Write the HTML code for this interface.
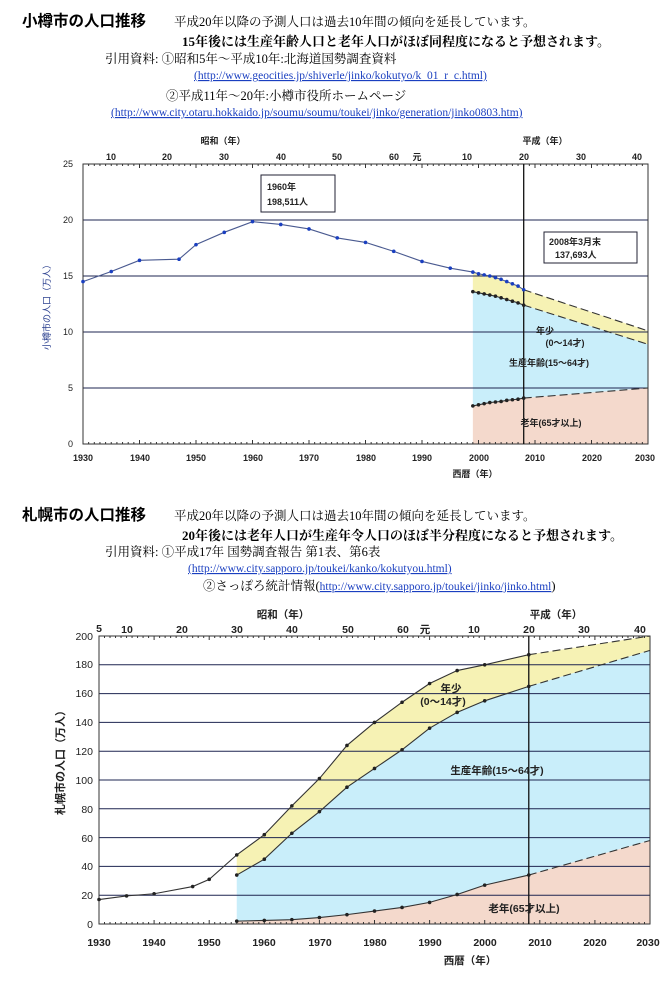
<!DOCTYPE html>
<html><head><meta charset="utf-8">
<style>
body{margin:0;background:#fff;}
svg{display:block;font-family:"Liberation Serif","Noto Serif CJK SC","Noto Sans CJK JP",serif;}
.b{font-weight:bold}
.s{font-family:"Liberation Sans","Noto Sans CJK JP",sans-serif;font-size:9px;font-weight:bold;fill:#222}
.u{fill:#1a3fc0;text-decoration:underline;font-size:11.5px}
</style></head><body>
<svg id="sv" width="672" height="990" viewBox="0 0 672 990" xmlns="http://www.w3.org/2000/svg">
<rect width="672" height="990" fill="#fff"/>
<text x="22" y="26" font-size="15.5" class="b" font-family="Liberation Sans,Noto Sans CJK JP,sans-serif">小樽市の人口推移</text>
<text x="174" y="26" font-size="12.5">平成20年以降の予測人口は過去10年間の傾向を延長しています。</text>
<text x="182" y="46" font-size="13" class="b">15年後には生産年齢人口と老年人口がほぼ同程度になると予想されます。</text>
<text x="105" y="63" font-size="12.5">引用資料:  ①昭和5年～平成10年:北海道国勢調査資料</text>
<text x="194" y="79" class="u">(http://www.geocities.jp/shiverle/jinko/kokutyo/k_01_r_c.html)</text>
<text x="166" y="100" font-size="12.5">②平成11年～20年:小樽市役所ホームページ</text>
<text x="111" y="116" class="u">(http://www.city.otaru.hokkaido.jp/soumu/soumu/toukei/jinko/generation/jinko0803.htm)</text>
<text x="22" y="520" font-size="15.5" class="b" font-family="Liberation Sans,Noto Sans CJK JP,sans-serif">札幌市の人口推移</text>
<text x="174" y="520" font-size="12.5">平成20年以降の予測人口は過去10年間の傾向を延長しています。</text>
<text x="182" y="540" font-size="13" class="b">20年後には老年人口が生産年令人口のほぼ半分程度になると予想されます。</text>
<text x="105" y="556" font-size="12.5">引用資料:  ①平成17年  国勢調査報告  第1表、第6表</text>
<text x="188" y="572" class="u">(http://www.city.sapporo.jp/toukei/kanko/kokutyou.html)</text>
<text x="203" y="590" font-size="12.5">②さっぽろ統計情報(<tspan class="u">http://www.city.sapporo.jp/toukei/jinko/jinko.html</tspan>)</text>
<g id="c1"></g><g id="c2"></g>
<g class="s" text-anchor="middle">
<text x="223" y="144">昭和（年）</text><text x="545" y="144">平成（年）</text>
<text x="111" y="160">10</text><text x="167" y="160">20</text><text x="224" y="160">30</text><text x="281" y="160">40</text><text x="337" y="160">50</text><text x="394" y="160">60</text><text x="417" y="160">元</text><text x="467" y="160">10</text><text x="524" y="160">20</text><text x="581" y="160">30</text><text x="637" y="160">40</text>
<text x="83" y="461">1930</text><text x="140" y="461">1940</text><text x="196" y="461">1950</text><text x="253" y="461">1960</text><text x="309" y="461">1970</text><text x="366" y="461">1980</text><text x="422" y="461">1990</text><text x="479" y="461">2000</text><text x="535" y="461">2010</text><text x="592" y="461">2020</text><text x="645" y="461">2030</text>
<text x="475" y="477">西暦（年）</text>
</g>
<g class="s" text-anchor="end" style="font-weight:normal">
<text x="73" y="447">0</text><text x="73" y="391">5</text><text x="73" y="335">10</text><text x="73" y="279">15</text><text x="73" y="223">20</text><text x="73" y="167">25</text>
</g>
<text class="s" style="fill:#2a3f8f;font-weight:normal" transform="translate(50,305) rotate(-90)" text-anchor="middle">小樽市の人口（万人）</text>
<g class="s" text-anchor="middle">
<text x="545" y="334">年少</text><text x="565" y="346">(0～14才)</text>
<text x="549" y="366">生産年齢(15～64才)</text>
<text x="551" y="426">老年(65才以上)</text>
</g>
<rect x="261" y="175" width="74" height="37" fill="#fff" stroke="#223" stroke-width="1"/>
<text class="s" x="267" y="190">1960年</text><text class="s" x="267" y="205">198,511人</text>
<rect x="544" y="232" width="93" height="31" fill="#fff" stroke="#223"/>
<text class="s" x="549" y="245">2008年3月末</text><text class="s" x="555" y="258">137,693人</text>
<g class="s" text-anchor="middle" style="font-size:10.5px">
<text x="283" y="618">昭和（年）</text><text x="556" y="618">平成（年）</text>
<text x="99" y="632">5</text><text x="127" y="633">10</text><text x="182" y="633">20</text><text x="237" y="633">30</text><text x="292" y="633">40</text><text x="348" y="633">50</text><text x="403" y="633">60</text><text x="425" y="633">元</text><text x="474" y="633">10</text><text x="529" y="633">20</text><text x="584" y="633">30</text><text x="640" y="633">40</text>
<text x="99" y="946">1930</text><text x="154" y="946">1940</text><text x="209" y="946">1950</text><text x="264" y="946">1960</text><text x="320" y="946">1970</text><text x="375" y="946">1980</text><text x="430" y="946">1990</text><text x="485" y="946">2000</text><text x="540" y="946">2010</text><text x="595" y="946">2020</text><text x="648" y="946">2030</text>
<text x="470" y="964">西暦（年）</text>
</g>
<g class="s" text-anchor="end" style="font-size:10.5px;font-weight:normal">
<text x="93" y="928">0</text><text x="93" y="899">20</text><text x="93" y="870">40</text><text x="93" y="842">60</text><text x="93" y="813">80</text><text x="93" y="784">100</text><text x="93" y="755">120</text><text x="93" y="726">140</text><text x="93" y="697">160</text><text x="93" y="668">180</text><text x="93" y="640">200</text>
</g>
<text class="s" style="font-size:11px" transform="translate(64,760) rotate(-90)" text-anchor="middle">札幌市の人口（万人）</text>
<g class="s" text-anchor="middle" style="font-size:10.5px">
<text x="451" y="692">年少</text><text x="443" y="705">(0～14才)</text>
<text x="497" y="774">生産年齢(15～64才)</text>
<text x="524" y="912">老年(65才以上)</text>
</g>
</svg>
<script>
var NS="http://www.w3.org/2000/svg";
function el(g,t,a){var e=document.createElementNS(NS,t);for(var k in a)e.setAttribute(k,a[k]);g.appendChild(e);return e;}
function chart(id,x0,x1,y0,yTop,vmax,step,tot,mid,old,dotC,lineC,fillStart){
 var g=document.getElementById(id);
 var X=function(y){return x0+(y-1930)*(x1-x0)/100},Y=function(v){return y0-(v)*(y0-yTop)/vmax};
 var P=function(a){return a.map(function(p){return X(p[0])+","+Y(Math.min(p[1],vmax))}).join(" ")};
 function interp(a,y){for(var i=0;i<a.length-1;i++){if(y>=a[i][0]&&y<=a[i+1][0]){var t=(y-a[i][0])/(a[i+1][0]-a[i][0]);return a[i][1]+t*(a[i+1][1]-a[i][1]);}}return a[a.length-1][1];}
 var totF=tot.filter(function(p){return p[0]>=fillStart});
 totF.unshift([fillStart,interp(tot,fillStart)]);
 var mr=mid.slice().reverse(), or=old.slice().reverse();
 el(g,"polygon",{points:P(totF)+" "+P(mr),fill:"#f6f2b4"});
 el(g,"polygon",{points:P(mid)+" "+P(or),fill:"#c9eefa"});
 el(g,"polygon",{points:P(old)+" "+X(2030)+","+y0+" "+X(old[0][0])+","+y0,fill:"#f4d9cc"});
 for(var v=step;v<=vmax;v+=step) el(g,"line",{x1:x0,x2:x1,y1:Y(v),y2:Y(v),stroke:"#1e2550","stroke-width":1});
 el(g,"rect",{x:x0,y:yTop,width:x1-x0,height:y0-yTop,fill:"none",stroke:"#333","stroke-width":1});
 for(var yr=1930;yr<=2030;yr++){var h=yr%10==0?4:2;el(g,"line",{x1:X(yr),x2:X(yr),y1:y0,y2:y0-h,stroke:"#333"});el(g,"line",{x1:X(yr),x2:X(yr),y1:yTop,y2:yTop+h,stroke:"#333"});}
 el(g,"line",{x1:X(2008),x2:X(2008),y1:yTop,y2:y0,stroke:"#111","stroke-width":1.3});
 [[tot,lineC],[mid,"#333"],[old,"#333"]].forEach(function(s){
  var a=s[0],solid=a.filter(function(p){return p[0]<=2008}),dash=a.filter(function(p){return p[0]>=2008});
  el(g,"polyline",{points:P(solid),fill:"none",stroke:s[1],"stroke-width":1.1});
  el(g,"polyline",{points:P(dash),fill:"none",stroke:"#333","stroke-width":1.1,"stroke-dasharray":"8,4"});
  solid.forEach(function(p){el(g,"circle",{cx:X(p[0]),cy:Y(p[1]),r:1.8,fill:s[0]==tot?dotC:"#222"})});
 });
}
chart("c1",83,648,444,164,25,5,
 [[1930,14.5],[1935,15.4],[1940,16.4],[1947,16.5],[1950,17.8],[1955,18.9],[1960,19.85],[1965,19.6],[1970,19.2],[1975,18.4],[1980,18.0],[1985,17.2],[1990,16.3],[1995,15.7],[1999,15.35],[2000,15.2],[2001,15.1],[2002,15.0],[2003,14.85],[2004,14.7],[2005,14.5],[2006,14.3],[2007,14.1],[2008,13.77],[2030,10.1]],
 [[1999,13.6],[2000,13.5],[2001,13.4],[2002,13.3],[2003,13.2],[2004,13.05],[2005,12.9],[2006,12.75],[2007,12.6],[2008,12.4],[2030,8.9]],
 [[1999,3.4],[2000,3.5],[2001,3.6],[2002,3.7],[2003,3.75],[2004,3.8],[2005,3.9],[2006,3.95],[2007,4.0],[2008,4.1],[2030,5.0]],
 "#1a3fc0","#4a5a90",1999);
chart("c2",99,650,924,636,200,20,
 [[1930,17],[1935,19.5],[1940,21],[1947,26],[1950,31],[1955,48],[1960,62],[1965,82],[1970,101],[1975,124],[1980,140],[1985,154],[1990,167],[1995,176],[2000,180],[2008,187],[2030,203]],
 [[1955,34],[1960,45],[1965,63],[1970,78],[1975,95],[1980,108],[1985,121],[1990,136],[1995,147],[2000,155],[2008,165],[2030,190]],
 [[1955,2],[1960,2.5],[1965,3],[1970,4.5],[1975,6.5],[1980,9],[1985,11.5],[1990,15],[1995,20.5],[2000,27],[2008,34],[2030,58]],
 "#222","#333",1955);
</script>
</body></html>
